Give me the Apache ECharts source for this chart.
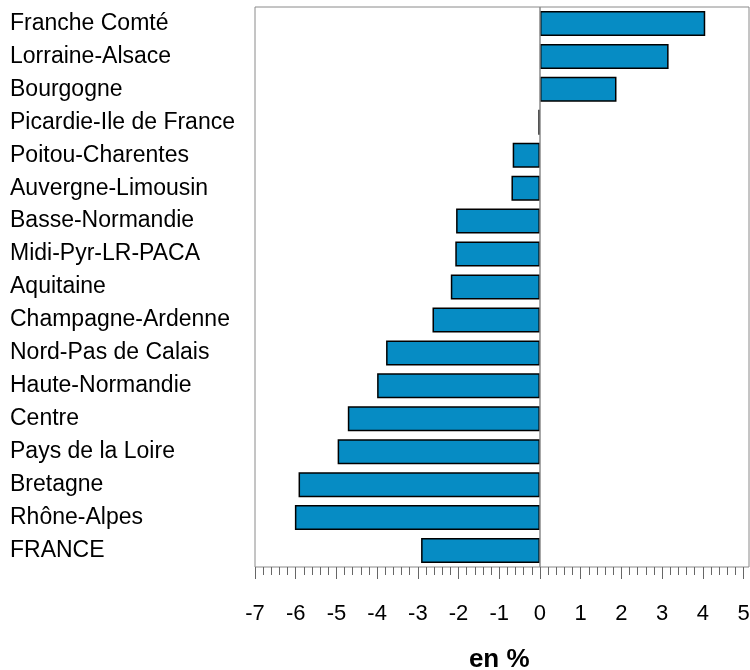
<!DOCTYPE html>
<html>
<head>
<meta charset="utf-8">
<script src="https://cdn.jsdelivr.net/npm/echarts@6/dist/echarts.min.js"></script>
<style>
  html, body { margin: 0; padding: 0; background: #fff; }
  #chart { width: 750px; height: 670px; }
</style>
</head>
<body>
<div id="chart"></div>
<script>
// régions, de haut en bas
const regions = [
  'Franche Comté', 'Lorraine-Alsace', 'Bourgogne', 'Picardie-Ile de France',
  'Poitou-Charentes', 'Auvergne-Limousin', 'Basse-Normandie', 'Midi-Pyr-LR-PACA',
  'Aquitaine', 'Champagne-Ardenne', 'Nord-Pas de Calais', 'Haute-Normandie',
  'Centre', 'Pays de la Loire', 'Bretagne', 'Rhône-Alpes', 'FRANCE'
]
// évolution en %
const values = [
  4.06, 3.16, 1.88, -0.04,
  -0.67, -0.70, -2.06, -2.08,
  -2.19, -2.64, -3.78, -4.00,
  -4.72, -4.97, -5.93, -6.02, -2.92
]
const axisMin = -7
const axisMax = 5
const axisStep = 1

const FONT = '"Liberation Sans", Arial, sans-serif'
const gridLeft = 255
const gridTop = 7
const gridBottom = 103
const frameRight = 1
const axisRight = 6.5
// le cadre dépasse un peu la graduation 5
const frameMax = axisMax + (axisRight - frameRight) * (axisMax - axisMin) / (750 - gridLeft - axisRight)

const chart = echarts.init(document.getElementById('chart'))

chart.setOption({
  animation: false,
  grid: [
    {
      left: gridLeft, right: frameRight, top: gridTop, bottom: gridBottom,
      outerBoundsMode: 'none',
      show: true, borderColor: '#8a8a8a', borderWidth: 1, backgroundColor: '#fff'
    },
    { left: gridLeft, right: axisRight, top: gridTop, bottom: gridBottom, outerBoundsMode: 'none' }
  ],
  xAxis: [
    {
      gridIndex: 0,
      type: 'value',
      min: axisMin,
      max: frameMax,
      axisLine: { show: false },
      axisTick: { show: false },
      axisLabel: { show: false },
      splitLine: { show: false }
    },
    {
      gridIndex: 1,
      type: 'value',
      min: axisMin,
      max: axisMax,
      interval: axisStep,
      position: 'bottom',
      axisLine: { show: false },
      axisTick: { show: true, length: 12, lineStyle: { color: '#666', width: 1 } },
      minorTick: { show: true, splitNumber: 5, length: 8, lineStyle: { color: '#666', width: 1 } },
      splitLine: { show: false },
      axisLabel: { color: '#000', fontSize: 22, fontFamily: FONT, margin: 36 },
      name: 'en %',
      nameLocation: 'middle',
      nameGap: 80,
      nameTextStyle: { color: '#000', fontSize: 26, fontWeight: 'bold', fontFamily: FONT }
    }
  ],
  yAxis: [
    {
      gridIndex: 0,
      type: 'category',
      data: regions,
      inverse: true,
      axisLine: { show: false },
      axisTick: { show: false },
      axisLabel: {
        color: '#000', fontSize: 23, fontFamily: FONT,
        align: 'left', margin: gridLeft - 10, padding: [4, 0, 0, 0]
      }
    },
    { gridIndex: 1, type: 'value', show: false }
  ],
  series: [
    {
      type: 'bar',
      xAxisIndex: 0,
      yAxisIndex: 0,
      data: values,
      barWidth: 25,
      itemStyle: { color: '#068cc4', borderColor: '#000', borderWidth: 1.5 },
      markLine: {
        silent: true,
        symbol: 'none',
        label: { show: false },
        lineStyle: { color: '#8a8a8a', type: 'solid', width: 1.5 },
        data: [{ xAxis: 0 }]
      }
    }
  ]
})
</script>
</body>
</html>
